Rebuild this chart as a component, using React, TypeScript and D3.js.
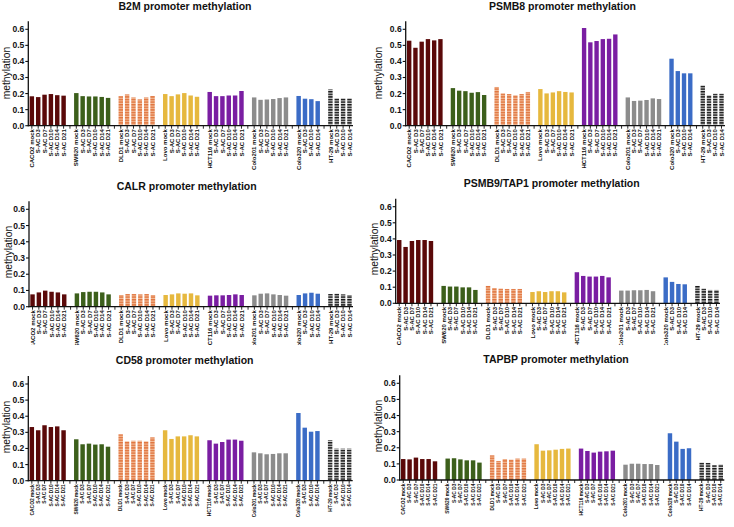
import React from 'react';
import * as d3 from 'd3';

const cellLines = ['CACO2', 'SW620', 'DLD1', 'Lovo', 'HCT116', 'Colo201', 'Colo320', 'HT-29'];
const treatments6 = ['mock', 'S-AC D3', 'S-AC D7', 'S-AC D10', 'S-AC D14', 'S-AC D21'];
const treatments4 = ['mock', 'S-AC D3', 'S-AC D10', 'S-AC D14'];
const groupTreatments = [treatments6, treatments6, treatments6, treatments6, treatments6, treatments6, treatments4, treatments4];
const yTicks = [0, 0.1, 0.2, 0.3, 0.4, 0.5, 0.6];
const geneTitles = ['B2M', 'PSMB8', 'CALR', 'PSMB9/TAP1', 'CD58', 'TAPBP'];

const b2m = [
  [0.183, 0.178, 0.193, 0.197, 0.19, 0.187],
  [0.203, 0.184, 0.182, 0.182, 0.179, 0.173],
  [0.184, 0.195, 0.176, 0.164, 0.176, 0.185],
  [0.197, 0.184, 0.195, 0.203, 0.188, 0.18],
  [0.21, 0.184, 0.184, 0.188, 0.188, 0.216],
  [0.176, 0.161, 0.163, 0.166, 0.172, 0.176],
  [0.185, 0.168, 0.165, 0.153],
  [0.226, 0.171, 0.171, 0.171],
];
const psmb8 = [
  [0.529, 0.485, 0.523, 0.539, 0.531, 0.539],
  [0.234, 0.218, 0.215, 0.205, 0.209, 0.191],
  [0.241, 0.201, 0.197, 0.189, 0.197, 0.21],
  [0.228, 0.201, 0.207, 0.215, 0.21, 0.207],
  [0.608, 0.519, 0.527, 0.539, 0.541, 0.568],
  [0.176, 0.154, 0.156, 0.16, 0.17, 0.166],
  [0.417, 0.34, 0.326, 0.326],
  [0.251, 0.189, 0.199, 0.199],
];
const calr = [
  [0.076, 0.088, 0.099, 0.092, 0.088, 0.076],
  [0.082, 0.09, 0.092, 0.092, 0.088, 0.076],
  [0.072, 0.078, 0.078, 0.076, 0.078, 0.072],
  [0.072, 0.076, 0.082, 0.08, 0.082, 0.07],
  [0.068, 0.07, 0.07, 0.072, 0.076, 0.072],
  [0.07, 0.08, 0.082, 0.076, 0.072, 0.068],
  [0.072, 0.082, 0.086, 0.08],
  [0.078, 0.08, 0.076, 0.072],
];
const psmb9 = [
  [0.393, 0.35, 0.387, 0.393, 0.393, 0.387],
  [0.108, 0.104, 0.104, 0.099, 0.099, 0.083],
  [0.108, 0.095, 0.091, 0.089, 0.089, 0.089],
  [0.07, 0.075, 0.07, 0.075, 0.075, 0.068],
  [0.193, 0.17, 0.166, 0.166, 0.17, 0.161],
  [0.079, 0.079, 0.081, 0.081, 0.083, 0.075],
  [0.161, 0.133, 0.12, 0.118],
  [0.108, 0.091, 0.083, 0.083],
];
const cd58 = [
  [0.333, 0.313, 0.344, 0.333, 0.337, 0.313],
  [0.257, 0.226, 0.23, 0.224, 0.226, 0.211],
  [0.288, 0.244, 0.248, 0.248, 0.244, 0.269],
  [0.313, 0.259, 0.275, 0.275, 0.282, 0.275],
  [0.251, 0.23, 0.24, 0.255, 0.255, 0.248],
  [0.176, 0.17, 0.164, 0.166, 0.17, 0.17],
  [0.42, 0.329, 0.304, 0.308],
  [0.251, 0.199, 0.199, 0.199],
];
const tapbp = [
  [0.13, 0.128, 0.139, 0.13, 0.13, 0.116],
  [0.133, 0.135, 0.128, 0.122, 0.122, 0.108],
  [0.153, 0.118, 0.13, 0.126, 0.133, 0.133],
  [0.222, 0.182, 0.184, 0.188, 0.193, 0.195],
  [0.195, 0.18, 0.17, 0.176, 0.178, 0.182],
  [0.095, 0.101, 0.101, 0.099, 0.099, 0.093],
  [0.29, 0.238, 0.193, 0.197],
  [0.108, 0.106, 0.093, 0.095],
];
const geneValues = [b2m, psmb8, calr, psmb9, cd58, tapbp];

// styles
const groupColors = ['#5a0909', '#3c5f1b', '#e0743e', '#e6b83e', '#7a1ea2', '#8c8c8c', '#3b6cc6', '#141414'];
const groupStriped = [false, false, true, false, false, false, false, true];
const stripeColors = ['', '', '#f6c9a8', '', '', '', '', '#f0f0f0'];

// layout per panel
const panels = [
  { ax: 28.3, x1: 353, y0: 125.7, y6: 29.3, tx: 185, ty: 9.5, lx: 9.5, ly: 73, fs: 6.0, clip: 0 },
  { ax: 405.7, x1: 725, y0: 125.7, y6: 29.3, tx: 562.5, ty: 9.5, lx: 381.5, ly: 73, fs: 6.0, clip: 0 },
  { ax: 29, x1: 353, y0: 306.7, y6: 209.3, tx: 186.7, ty: 190, lx: 11.5, ly: 252, fs: 6.0, clip: 345 },
  { ax: 395.7, x1: 720, y0: 303.3, y6: 206.7, tx: 551.7, ty: 186.7, lx: 378, ly: 249, fs: 6.0, clip: 345 },
  { ax: 28.3, x1: 352.7, y0: 480.7, y6: 384, tx: 184.7, ty: 364, lx: 10, ly: 427, fs: 4.9, clip: 0 },
  { ax: 399.7, x1: 724.3, y0: 480, y6: 383.3, tx: 556, ty: 363.3, lx: 381.5, ly: 426, fs: 4.9, clip: 0 },
];

const FONT = 'Arial, "Liberation Sans", sans-serif';

function Panel({ idx }: { idx: number }) {
  const p = panels[idx];
  const values = geneValues[idx];
  const slots: string[] = [];
  cellLines.forEach((c, gi) => {
    groupTreatments[gi].forEach((t, ti) => slots.push(`${gi}-${ti}`));
    if (gi < cellLines.length - 1) slots.push(`gap${gi}`);
  });
  const x = d3.scaleBand<string>().domain(slots).range([p.ax + 1, p.x1 - 1]).paddingInner(0.3).paddingOuter(0.05);
  const y = d3.scaleLinear().domain([0, 0.6]).range([p.y0, p.y6]);
  const yTop = y(0.65);
  const bw = x.bandwidth();
  const clipId = `clip${idx}`;
  return (
    <g>
      {p.clip ? (
        <defs>
          <clipPath id={clipId}>
            <rect x={0} y={0} width={734} height={p.clip} />
          </clipPath>
        </defs>
      ) : null}
      <text x={p.tx} y={p.ty} textAnchor="middle" fontFamily={FONT} fontWeight="bold" fontSize={10.5} fill="#111">
        {geneTitles[idx]} promoter methylation
      </text>
      <text
        transform={`translate(${p.lx},${p.ly}) rotate(-90)`}
        textAnchor="middle"
        fontFamily={FONT}
        fontSize={10.3}
        fill="#111"
      >
        methylation
      </text>
      {cellLines.map((c, gi) =>
        values[gi].map((v, ti) => {
          const xx = x(`${gi}-${ti}`)!;
          const fill = groupStriped[gi] ? `url(#stripe${gi})` : groupColors[gi];
          return <rect key={`${gi}-${ti}`} x={xx} y={y(v)} width={bw} height={p.y0 - y(v)} fill={fill} />;
        })
      )}
      {/* axes */}
      <line x1={p.ax} x2={p.ax} y1={p.y0 + 0.6} y2={yTop} stroke="#111" strokeWidth={1.3} />
      <line x1={p.ax - 0.6} x2={p.x1} y1={p.y0} y2={p.y0} stroke="#111" strokeWidth={1.3} />
      {yTicks.map((t) => (
        <g key={t}>
          <line x1={p.ax - 3} x2={p.ax} y1={y(t)} y2={y(t)} stroke="#111" strokeWidth={1.1} />
          <text x={p.ax - 4} y={y(t)} dy="0.35em" textAnchor="end" fontFamily={FONT} fontWeight="bold" fontSize={8.5} fill="#111">
            {t.toFixed(1)}
          </text>
        </g>
      ))}
      {slots.map((s) => {
        const cx = x(s)! + bw / 2;
        return <line key={s} x1={cx} x2={cx} y1={p.y0} y2={p.y0 + 3} stroke="#111" strokeWidth={0.9} />;
      })}
      <g clipPath={p.clip ? `url(#${clipId})` : undefined}>
        {cellLines.map((c, gi) =>
          groupTreatments[gi].map((t, ti) => {
            const cx = x(`${gi}-${ti}`)! + bw / 2;
            const label = t === 'mock' ? `${c} mock` : t;
            return (
              <text
                key={`${gi}-${ti}`}
                transform={`translate(${cx},${p.y0 + 3.5}) rotate(-90)`}
                textAnchor="end"
                dy="0.35em"
                fontFamily={FONT}
                fontWeight="bold"
                fontSize={p.fs}
                fill="#111"
              >
                {label}
              </text>
            );
          })
        )}
      </g>
    </g>
  );
}

export default function App() {
  return (
    <svg width={734} height={527} style={{ position: 'absolute', left: 0, top: 0, background: '#fff' }}>
      <defs>
        {cellLines.map((c, gi) =>
          groupStriped[gi] ? (
            <pattern key={gi} id={`stripe${gi}`} patternUnits="userSpaceOnUse" width={6} height={2.6}>
              <rect x={0} y={0} width={6} height={2.6} fill={groupColors[gi]} />
              <rect x={0} y={1.5} width={6} height={1} fill={stripeColors[gi]} />
            </pattern>
          ) : null
        )}
      </defs>
      <rect x={0} y={0} width={734} height={527} fill="#fff" />
      {panels.map((_, i) => (
        <Panel key={i} idx={i} />
      ))}
    </svg>
  );
}
